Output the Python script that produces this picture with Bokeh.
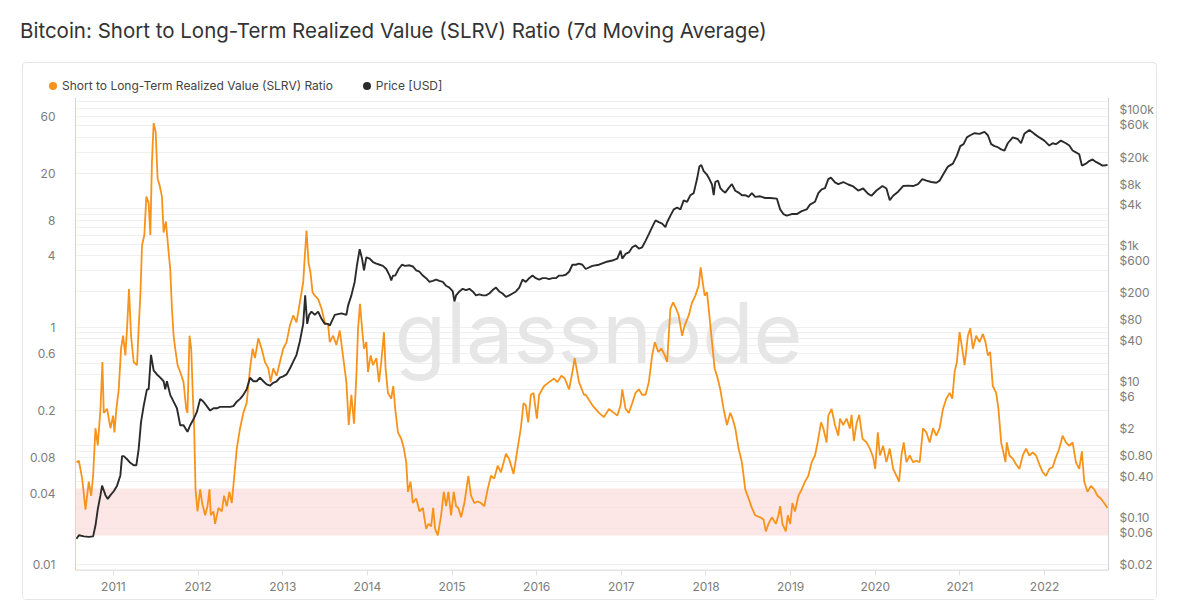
import numpy as np
from bokeh.plotting import figure
from bokeh.layouts import column
from bokeh.models import (Range1d, LogAxis, LogScale, FixedTicker, CustomJSTickFormatter,
                          BoxAnnotation, Label, Div)
from bokeh.embed import file_html
from bokeh.resources import INLINE

# ---------------- data ----------------
title_text = "Bitcoin: Short to Long-Term Realized Value (SLRV) Ratio (7d Moving Average)"
slrv_label = "Short to Long-Term Realized Value (SLRV) Ratio"
price_label = "Price [USD]"
watermark = "glassnode"

year_ticks = [2011, 2012, 2013, 2014, 2015, 2016, 2017, 2018, 2019, 2020, 2021, 2022]
slrv_ticks = [0.01, 0.04, 0.08, 0.2, 0.6, 1, 4, 8, 20, 60]
price_ticks = [0.02, 0.06, 0.1, 0.4, 0.8, 2, 6, 10, 40, 80, 200, 600, 1000, 4000, 8000,
               20000, 60000, 100000]
band_low, band_high = 0.0176, 0.0437

slrv_year = [
    2010.564, 2010.592, 2010.631, 2010.670, 2010.709, 2010.737, 2010.760, 2010.788, 2010.815, 2010.847,
    2010.870, 2010.886, 2010.925, 2010.965, 2010.996, 2011.012, 2011.035, 2011.063, 2011.090, 2011.114,
    2011.141, 2011.161, 2011.184, 2011.208, 2011.239, 2011.279, 2011.298, 2011.318, 2011.338, 2011.365,
    2011.389, 2011.416, 2011.436, 2011.455, 2011.475, 2011.499, 2011.522, 2011.546, 2011.573, 2011.593,
    2011.620, 2011.652, 2011.671, 2011.691, 2011.711, 2011.730, 2011.758, 2011.789, 2011.828, 2011.860,
    2011.875, 2011.899, 2011.919, 2011.938, 2011.954, 2011.970, 2011.993, 2012.025, 2012.048, 2012.084,
    2012.111, 2012.135, 2012.150, 2012.182, 2012.201, 2012.241, 2012.280, 2012.307, 2012.339, 2012.370,
    2012.398, 2012.417, 2012.457, 2012.496, 2012.535, 2012.574, 2012.614, 2012.645, 2012.672, 2012.712,
    2012.751, 2012.790, 2012.830, 2012.857, 2012.888, 2012.928, 2012.967, 2013.006, 2013.045, 2013.085,
    2013.124, 2013.163, 2013.202, 2013.242, 2013.261, 2013.281, 2013.305, 2013.328, 2013.352, 2013.379,
    2013.418, 2013.458,
    2013.497, 2013.536, 2013.556, 2013.595, 2013.634, 2013.674, 2013.701, 2013.752, 2013.780, 2013.811,
    2013.842, 2013.870, 2013.890, 2013.913, 2013.937, 2013.960, 2013.988, 2014.007, 2014.039, 2014.066,
    2014.106, 2014.137, 2014.164, 2014.196, 2014.215, 2014.243, 2014.282, 2014.306, 2014.329, 2014.361,
    2014.400, 2014.431, 2014.459, 2014.479, 2014.510, 2014.537, 2014.577, 2014.616, 2014.655, 2014.694,
    2014.722, 2014.753, 2014.777, 2014.800, 2014.832, 2014.871, 2014.903, 2014.930, 2014.957, 2014.989,
    2015.020, 2015.048, 2015.075, 2015.107, 2015.146, 2015.193, 2015.224, 2015.264, 2015.303, 2015.342,
    2015.381, 2015.421, 2015.460, 2015.499, 2015.539, 2015.578, 2015.637, 2015.676, 2015.727, 2015.774,
    2015.813, 2015.845, 2015.872, 2015.900, 2015.931, 2015.963, 2016.002, 2016.029, 2016.088, 2016.147,
    2016.206, 2016.245, 2016.292, 2016.332, 2016.383, 2016.422, 2016.449, 2016.500, 2016.559,
    2016.579, 2016.658, 2016.736, 2016.795, 2016.854, 2016.913, 2016.952, 2016.991, 2017.011, 2017.050,
    2017.089, 2017.129, 2017.168, 2017.207, 2017.246, 2017.286, 2017.325, 2017.364, 2017.396, 2017.435,
    2017.474, 2017.514, 2017.541, 2017.580, 2017.612, 2017.647, 2017.678, 2017.718, 2017.749, 2017.796,
    2017.835, 2017.875, 2017.914, 2017.937, 2017.961, 2017.985, 2018.012, 2018.040, 2018.071, 2018.102,
    2018.130, 2018.169, 2018.208, 2018.248, 2018.287, 2018.314, 2018.346, 2018.385, 2018.424, 2018.464,
    2018.503, 2018.542, 2018.581, 2018.640, 2018.680, 2018.707, 2018.738, 2018.778, 2018.825, 2018.856,
    2018.876, 2018.903, 2018.943, 2018.966, 2018.994, 2019.021, 2019.052, 2019.092, 2019.131, 2019.170,
    2019.209, 2019.249, 2019.288, 2019.319, 2019.359, 2019.386, 2019.425, 2019.445, 2019.484, 2019.524,
    2019.563,
    2019.583, 2019.622, 2019.661, 2019.700, 2019.720, 2019.747, 2019.779, 2019.810, 2019.849, 2019.897,
    2019.936, 2019.975, 2019.999, 2020.030, 2020.054, 2020.093, 2020.132, 2020.171, 2020.211, 2020.250,
    2020.281, 2020.309, 2020.336, 2020.368, 2020.407, 2020.446, 2020.486, 2020.525, 2020.564, 2020.603,
    2020.643, 2020.682, 2020.721, 2020.760, 2020.800, 2020.839, 2020.878, 2020.910, 2020.937, 2020.964,
    2020.996, 2021.027, 2021.055, 2021.094, 2021.122, 2021.153, 2021.192, 2021.231, 2021.271, 2021.302,
    2021.330, 2021.357, 2021.388, 2021.428, 2021.455, 2021.487, 2021.514, 2021.538, 2021.553, 2021.585,
    2021.624, 2021.663, 2021.703, 2021.742, 2021.781, 2021.820, 2021.860, 2021.899, 2021.938, 2021.977,
    2022.017, 2022.056, 2022.095, 2022.134, 2022.174, 2022.213, 2022.252, 2022.292, 2022.331, 2022.370,
    2022.409, 2022.441, 2022.468, 2022.507, 2022.547, 2022.586, 2022.625, 2022.664, 2022.704, 2022.743,
]
slrv_value = [
    0.073, 0.075, 0.053, 0.029, 0.050, 0.038, 0.056, 0.141, 0.101, 0.205,
    0.51, 0.19, 0.205, 0.141, 0.18, 0.13, 0.205, 0.30, 0.66, 0.85,
    0.58, 0.98, 2.1, 0.85, 0.51, 0.48, 0.98, 1.85, 4.9, 6.0,
    12.7, 11.2, 6.0, 24.6, 52.7, 44.6, 17.9, 15.7, 12.7, 6.3,
    7.8, 4.3, 3.1, 1.44, 0.85, 0.66, 0.48, 0.42, 0.345, 0.205,
    0.19, 0.85, 0.66, 0.27, 0.141, 0.043, 0.028, 0.043, 0.033, 0.026,
    0.031, 0.043, 0.026, 0.028, 0.022, 0.030, 0.028, 0.038, 0.031, 0.041,
    0.033, 0.046, 0.095, 0.141, 0.19, 0.23, 0.45, 0.66, 0.55, 0.81,
    0.66, 0.51, 0.45, 0.345, 0.45, 0.39, 0.51, 0.66, 0.75, 1.04,
    1.26, 1.10, 1.62, 2.4, 4.0, 6.55, 3.5, 2.9, 1.98, 1.85,
    1.73, 1.44,
    1.10, 1.05, 0.75, 0.85, 0.71, 0.94, 0.66, 0.345, 0.15, 0.27,
    0.154, 0.39, 0.98, 1.58, 0.98, 0.66, 0.75, 0.42, 0.58, 0.48,
    0.55, 0.345, 0.51, 0.91, 0.45, 0.28, 0.25, 0.32, 0.205, 0.13,
    0.115, 0.095, 0.073, 0.041, 0.050, 0.033, 0.036, 0.028, 0.030, 0.020,
    0.022, 0.021, 0.030, 0.020, 0.0176, 0.026, 0.041, 0.031, 0.041, 0.026,
    0.041, 0.031, 0.030, 0.025, 0.033, 0.056, 0.038, 0.033, 0.034, 0.033,
    0.031, 0.043, 0.056, 0.053, 0.068, 0.060, 0.086, 0.077, 0.058, 0.095,
    0.141, 0.23, 0.22, 0.158, 0.27, 0.28, 0.17, 0.27, 0.32, 0.345,
    0.37, 0.345, 0.39, 0.37, 0.30, 0.42, 0.55, 0.345, 0.27,
    0.27, 0.22, 0.19, 0.175, 0.205, 0.19, 0.18, 0.22, 0.30, 0.205,
    0.19, 0.23, 0.28, 0.30, 0.27, 0.27, 0.345, 0.58, 0.75, 0.62,
    0.66, 0.58, 0.51, 1.44, 1.62, 1.44, 1.26, 0.85, 1.04, 1.26,
    1.62, 1.85, 2.25, 3.2, 2.4, 1.85, 1.98, 1.26, 0.75, 0.45,
    0.39, 0.30, 0.205, 0.15, 0.19, 0.17, 0.141, 0.095, 0.073, 0.043,
    0.036, 0.030, 0.026, 0.025, 0.024, 0.019, 0.022, 0.025, 0.022, 0.026,
    0.031, 0.022, 0.019, 0.026, 0.022, 0.033, 0.028, 0.038, 0.043, 0.050,
    0.056, 0.073, 0.083, 0.107, 0.158, 0.141, 0.107, 0.18, 0.205, 0.15,
    0.122,
    0.17, 0.15, 0.17, 0.14, 0.183, 0.11, 0.155, 0.183, 0.115, 0.107,
    0.095, 0.08, 0.064, 0.13, 0.083, 0.10, 0.073, 0.095, 0.064, 0.056,
    0.050, 0.083, 0.107, 0.073, 0.083, 0.073, 0.075, 0.073, 0.141, 0.13,
    0.107, 0.141, 0.122, 0.141, 0.205, 0.25, 0.28, 0.25, 0.42, 0.51,
    0.91, 0.66, 0.48, 0.85, 0.98, 0.66, 0.85, 0.75, 0.88, 0.75,
    0.58, 0.62, 0.32, 0.28, 0.205, 0.107, 0.088, 0.073, 0.107, 0.083,
    0.078, 0.07, 0.064, 0.083, 0.095, 0.083, 0.088, 0.083, 0.07, 0.06,
    0.056, 0.064, 0.066, 0.08, 0.095, 0.122, 0.107, 0.10, 0.107, 0.073,
    0.064, 0.09, 0.050, 0.041, 0.046, 0.043, 0.038, 0.036, 0.033, 0.030,
]

price_year = [
    2010.564, 2010.592, 2010.651, 2010.709, 2010.760, 2010.788, 2010.815, 2010.847, 2010.866, 2010.906,
    2010.933, 2010.965, 2011.004, 2011.043, 2011.082, 2011.102, 2011.122, 2011.161, 2011.200, 2011.239,
    2011.271, 2011.298, 2011.326, 2011.357, 2011.396, 2011.416, 2011.444, 2011.475, 2011.514, 2011.554,
    2011.593, 2011.612, 2011.632, 2011.671, 2011.711, 2011.750, 2011.789, 2011.828, 2011.875, 2011.907,
    2011.946, 2011.985, 2012.025, 2012.064, 2012.103, 2012.142, 2012.182, 2012.221, 2012.260, 2012.299,
    2012.339, 2012.378, 2012.417, 2012.457, 2012.496, 2012.535, 2012.574, 2012.614, 2012.653, 2012.692,
    2012.731, 2012.771, 2012.810, 2012.849, 2012.888, 2012.928, 2012.967, 2013.006, 2013.045, 2013.085,
    2013.124, 2013.163, 2013.202, 2013.242, 2013.265, 2013.289, 2013.312, 2013.340, 2013.379, 2013.418,
    2013.458, 2013.497, 2013.536, 2013.556,
    2013.615, 2013.693, 2013.752, 2013.772, 2013.811, 2013.850, 2013.878, 2013.909, 2013.937, 2013.960,
    2013.988, 2014.027, 2014.066, 2014.106, 2014.145, 2014.184, 2014.223, 2014.263, 2014.282, 2014.302,
    2014.329, 2014.369, 2014.408, 2014.447, 2014.498, 2014.537, 2014.577, 2014.616, 2014.655, 2014.694,
    2014.734, 2014.773, 2014.812, 2014.851, 2014.891, 2014.930, 2014.969, 2015.009, 2015.028, 2015.048,
    2015.087, 2015.126, 2015.166, 2015.205, 2015.244, 2015.283, 2015.323, 2015.362, 2015.401, 2015.440,
    2015.480, 2015.519, 2015.558, 2015.597, 2015.637, 2015.676, 2015.715, 2015.755, 2015.794, 2015.833,
    2015.872, 2015.911, 2015.951, 2015.990, 2016.029, 2016.069, 2016.108, 2016.147, 2016.186, 2016.226,
    2016.265, 2016.304, 2016.343, 2016.383, 2016.422, 2016.461, 2016.500, 2016.540,
    2016.579, 2016.658, 2016.736, 2016.815, 2016.893, 2016.952, 2016.991, 2017.011, 2017.050, 2017.089,
    2017.129, 2017.168, 2017.207, 2017.246, 2017.286, 2017.325, 2017.364, 2017.404, 2017.443, 2017.482,
    2017.521, 2017.541, 2017.580, 2017.619, 2017.659, 2017.698, 2017.737, 2017.777, 2017.816, 2017.855,
    2017.894, 2017.922, 2017.945, 2017.973, 2018.012, 2018.040, 2018.071, 2018.091, 2018.110, 2018.142,
    2018.169, 2018.197, 2018.228, 2018.267, 2018.306, 2018.346, 2018.385, 2018.424, 2018.464, 2018.503,
    2018.542, 2018.581, 2018.640, 2018.699, 2018.758, 2018.837, 2018.876, 2018.915, 2018.954, 2019.013,
    2019.072, 2019.131, 2019.190, 2019.229, 2019.288, 2019.327, 2019.367, 2019.406, 2019.445, 2019.476,
    2019.524, 2019.563,
    2019.622, 2019.681, 2019.740, 2019.798, 2019.857, 2019.916, 2019.955, 2020.014, 2020.085, 2020.132,
    2020.171, 2020.211, 2020.270, 2020.328, 2020.387, 2020.446, 2020.505, 2020.556, 2020.603, 2020.662,
    2020.721, 2020.760, 2020.800, 2020.858, 2020.917, 2020.964, 2021.004, 2021.043, 2021.082, 2021.122,
    2021.173, 2021.231, 2021.290, 2021.330, 2021.369, 2021.408, 2021.447, 2021.487, 2021.526, 2021.565,
    2021.624, 2021.683, 2021.722, 2021.761, 2021.820, 2021.879, 2021.938, 2021.997, 2022.056, 2022.095,
    2022.134, 2022.193, 2022.252, 2022.292, 2022.331, 2022.370, 2022.409, 2022.441, 2022.488, 2022.527,
    2022.567, 2022.606, 2022.645, 2022.684, 2022.743,
]
price_value = [
    0.048, 0.054, 0.052, 0.051, 0.052, 0.075, 0.13, 0.21, 0.29, 0.21,
    0.185, 0.21, 0.24, 0.29, 0.41, 0.79, 0.79, 0.71, 0.63, 0.58,
    0.58, 1.0, 2.5, 4.3, 7.6, 7.6, 24.5, 14.5, 12.6, 11.3,
    10.0, 7.6, 10.0, 6.3, 5.0, 4.0, 2.25, 2.25, 1.8, 2.25,
    2.75, 3.5, 5.5, 5.0, 4.3, 3.7, 4.0, 4.0, 4.2, 4.2,
    4.2, 4.2, 4.3, 5.0, 5.5, 6.3, 7.6, 11.3, 10.0, 10.0,
    11.3, 10.0, 9.0, 8.6, 9.5, 10.0, 11.3, 11.8, 12.6, 15.4,
    19.5, 24.5, 38.5, 70, 184, 70, 95, 106, 95, 106,
    83, 70, 70, 66,
    95, 100, 95, 130, 184, 290, 520, 880, 640, 430,
    670, 640, 570, 540, 520, 500, 450, 360, 305, 360,
    360, 450, 520, 500, 510, 490, 430, 410, 360, 330,
    290, 300, 315, 300, 290, 255, 240, 210, 150, 184,
    210, 230, 220, 230, 210, 184, 190, 184, 184, 196,
    220, 240, 210, 196, 175, 184, 196, 210, 240, 315,
    290, 330, 360, 330, 315, 330, 330, 320, 330, 330,
    360, 360, 370, 410, 520, 520, 540, 520,
    450, 500, 520, 570, 600, 640, 840, 640, 750, 790,
    940, 1000, 900, 940, 1170, 1470, 1860, 2340, 2200, 2100,
    1860, 2200, 2750, 3400, 3600, 3400, 4600, 4400, 5500, 5900,
    9500, 14500, 15300, 12400, 11000, 9500, 7900, 5500, 8600, 9000,
    7000, 6400, 6000, 7000, 8000, 6400, 6000, 5500, 5500, 5200,
    5900, 5200, 5300, 5000, 5000, 4900, 3400, 2900, 2750, 2900,
    2900, 3200, 3400, 4000, 4400, 5900, 6700, 7000, 9500, 10000,
    8500, 8000,
    8600, 7900, 7400, 6440, 6900, 5760, 5400, 6440, 7500, 6900,
    4650, 5400, 6200, 7500, 7600, 7500, 8000, 9500, 9000, 8600,
    8400, 9000, 11000, 14500, 16000, 21000, 29000, 31000, 39000, 42000,
    45000, 44000, 47000, 42000, 31000, 29000, 28000, 26000, 25000, 32000,
    39000, 37000, 32000, 44000, 50000, 44000, 39000, 35000, 29600, 32000,
    31000, 35000, 32000, 29600, 25000, 23500, 22000, 15000, 16000, 17500,
    18500, 17000, 16000, 15000, 15300,
]

# ---------------- styling ----------------
ORANGE = "#F7931A"
BLACK = "#2b2b2b"
FONT = "Inter"
TICK_COLOR = "#7d7d7d"

title_div = Div(text=title_text, width=1170, height=62, margin=0,
                styles={"font-family": FONT, "font-size": "20.5px", "color": "#333333",
                        "padding-left": "20px", "padding-top": "16px", "box-sizing": "border-box"})

dot = ('<span style="display:inline-block;width:8px;height:8px;border-radius:50%;'
       'background:{c};vertical-align:middle;margin:0 5px 2px {m}px;"></span>')
legend_html = ('<div style="font-family:Inter;font-size:12px;color:#444444;white-space:nowrap;'
               'padding:14px 0 0 26px;">'
               + dot.format(c=ORANGE, m=0) + slrv_label
               + dot.format(c=BLACK, m=30) + price_label + '</div>')
legend_div = Div(text=legend_html, width=1133, height=34, margin=0)

p = figure(width=1133, height=502, title=None,
           x_range=Range1d(2010.552, 2022.755),
           y_range=Range1d(0.0089, 86.7), y_axis_type="log",
           output_backend="svg", toolbar_location=None,
           min_border_left=52, min_border_right=45, min_border_top=0, min_border_bottom=29,
           background_fill_color="white", border_fill_color="white", margin=0)
p.outline_line_color = None

p.extra_y_ranges = {"price": Range1d(0.01633, 151000)}
p.extra_y_scales = {"price": LogScale()}

# grid
grid_ticks = [m * 10.0 ** e for e in range(-3, 3) for m in range(1, 10)]
p.ygrid[0].ticker = FixedTicker(ticks=grid_ticks)
p.ygrid.grid_line_color = "#f0f0f0"
p.xgrid.grid_line_color = None

# watermark
p.add_layout(Label(x=523, y=238, x_units="screen", y_units="screen", text=watermark,
                   text_align="center", text_baseline="alphabetic",
                   text_font="Inter", text_font_size="84px", text_color="#e6e6e6",
                   level="underlay"))

# red band
p.add_layout(BoxAnnotation(bottom=band_low, top=band_high, fill_color="#fbdcdc", fill_alpha=0.7,
                           line_color=None, level="underlay"))

# series
p.line(slrv_year, slrv_value, color=ORANGE, line_width=1.8)
p.line(price_year, price_value, color=BLACK, line_width=1.9, y_range_name="price")

# left axis
ya = p.yaxis[0]
ya.ticker = FixedTicker(ticks=slrv_ticks, minor_ticks=[])
ya.formatter = CustomJSTickFormatter(code="return tick.toString();")
ya.axis_line_color = "#f9cfa0"
ya.major_tick_line_color = None
ya.minor_tick_line_color = None
ya.major_label_standoff = 14
ya.major_label_text_font = FONT
ya.major_label_text_font_size = "12px"
ya.major_label_text_color = TICK_COLOR

# right axis
ra = LogAxis(y_range_name="price")
ra.ticker = FixedTicker(ticks=price_ticks, minor_ticks=[])
ra.formatter = CustomJSTickFormatter(code="""
if (tick >= 1000) { return '$' + (tick / 1000) + 'k'; }
if (tick >= 1) { return '$' + tick; }
return '$' + tick.toFixed(2);
""")
ra.axis_line_color = "#d4d4d4"
ra.major_tick_line_color = None
ra.minor_tick_line_color = None
ra.major_label_standoff = 5
ra.major_label_text_font = FONT
ra.major_label_text_font_size = "12px"
ra.major_label_text_color = TICK_COLOR
p.add_layout(ra, "right")

# bottom axis
xa = p.xaxis[0]
xa.ticker = FixedTicker(ticks=year_ticks, minor_ticks=[])
xa.axis_line_color = "#e6e6e6"
xa.major_tick_line_color = "#e0e0e0"
xa.major_tick_in = 0
xa.major_tick_out = 5
xa.minor_tick_line_color = None
xa.major_label_standoff = 6
xa.major_label_text_font = FONT
xa.major_label_text_font_size = "12px"
xa.major_label_text_color = TICK_COLOR

card = column(legend_div, p, spacing=0, margin=(0, 0, 0, 22),
              styles={"border": "1px solid #e6e6e6", "border-radius": "4px"})
layout = column(title_div, card, spacing=0, margin=0)
open("out.html", "w").write(file_html(layout, INLINE))
